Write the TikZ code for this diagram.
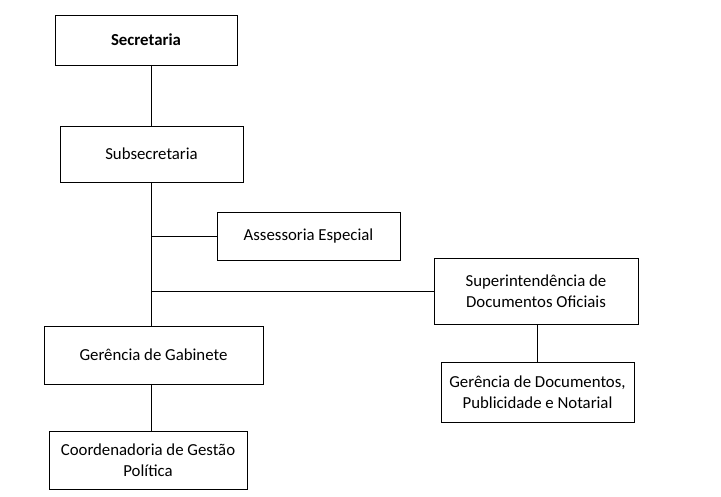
\documentclass[tikz,border=0pt]{standalone}
\usepackage{fontspec}
\setmainfont{Carlito}
\usetikzlibrary{positioning}
\begin{document}
\begin{tikzpicture}
        [x=1pt, y=-1pt,
        box/.style={draw, thick, align=center, inner sep=2pt, font=\fontsize{16.8}{21}\selectfont},
        link/.style={black, semithick}]

        \useasboundingbox (0,0) rectangle (721,497);

        \node[box, minimum width=182, minimum height=50] (sec) at (146,40) {\textbf{Secretaria}};
        \node[box, minimum width=183, minimum height=56] (sub) at (151.5,154) {Subsecretaria};
        \node[box, minimum width=183, minimum height=48] (ass) at (308.5,236) {Assessoria Especial};
        \node[box, minimum width=204, minimum height=66] (sup) at (536,291) {Superintendência de\\Documentos Oficiais};
        \node[box, minimum width=219, minimum height=58] (gab) at (153.5,355) {Gerência de Gabinete};
        \node[box, minimum width=193, minimum height=60] (doc) at (537.5,392) {Gerência de Documentos,\\Publicidade e Notarial};
        \node[box, minimum width=198, minimum height=58] (coo) at (148,460) {Coordenadoria de Gestão\\Política};

        % junctions on the trunk
        \coordinate (j1) at (151,236);
        \coordinate (j2) at (151,291);

        % connectors
        \draw[link] (151,65) -- (151,126);
        \draw[link] (sub.south) -- (sub.south |- gab.north);
        \draw[link] (j1) -- (ass.west);
        \draw[link] (j2) -- (sup.west);
        \draw[link] (doc.north |- sup.south) -- (doc.north);
        \draw[link] (151,384) -- (151,431);

    \end{tikzpicture}
\end{document}
